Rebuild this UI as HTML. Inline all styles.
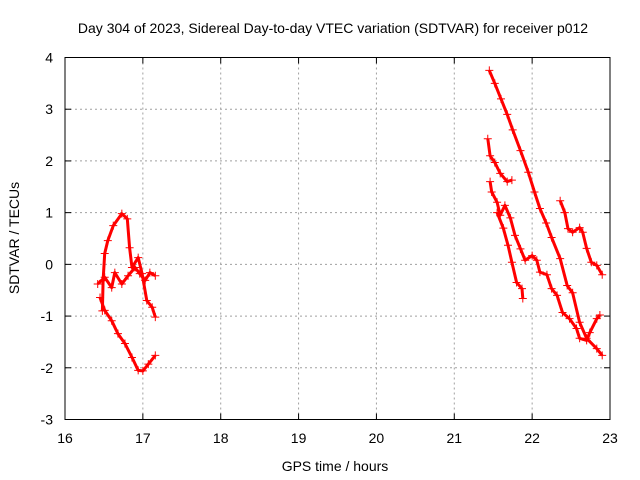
<!DOCTYPE html>
<html><head><meta charset="utf-8"><style>
body{margin:0;background:#fff}
svg{display:block;font-family:"Liberation Sans",sans-serif;font-size:14px}
</style></head><body>
<svg id="chart" width="640" height="480">
<text x="333" y="33" text-anchor="middle">Day 304 of 2023, Sidereal Day-to-day VTEC variation (SDTVAR) for receiver p012</text>
<text x="335" y="471" text-anchor="middle">GPS time / hours</text>
<text transform="translate(19,238) rotate(-90)" text-anchor="middle">SDTVAR / TECUs</text>
<g id="grid"></g><g id="ticks"></g><g id="marks"></g>
<rect x="65" y="57.5" width="545" height="362" fill="none" stroke="#000" stroke-width="1"/>
</svg>
<script>
const xTicks=[16,17,18,19,20,21,22,23];
const yTicks=[-3,-2,-1,0,1,2,3,4];
const seriesA=[[21.45,3.75],[21.52,3.5],[21.6,3.2],[21.68,2.9],[21.75,2.6],[21.85,2.2],[21.95,1.78],[22.03,1.4],[22.1,1.08],[22.18,0.8],[22.25,0.52],[22.36,0.11],[22.45,-0.41],[22.52,-0.55],[22.61,-1.12],[22.7,-1.43],[22.83,-1.63],[22.9,-1.76]];
const seriesB=[[21.43,2.43],[21.46,2.1],[21.52,1.97],[21.59,1.76],[21.68,1.6],[21.74,1.63]];
const seriesC=[[21.46,1.6],[21.48,1.4],[21.55,1.2],[21.59,0.95],[21.65,1.14],[21.72,0.9],[21.78,0.56],[21.85,0.3],[21.91,0.08],[22.0,0.17],[22.06,0.08],[22.1,-0.15],[22.19,-0.2],[22.25,-0.47],[22.32,-0.6],[22.39,-0.93],[22.48,-1.05],[22.57,-1.24],[22.61,-1.43],[22.7,-1.47],[22.74,-1.32],[22.83,-1.05],[22.87,-0.98]];
const seriesD=[[21.55,1.0],[21.63,0.7],[21.69,0.37],[21.74,0.04],[21.8,-0.35],[21.87,-0.47],[21.88,-0.66]];
const seriesE=[[22.36,1.23],[22.42,1.0],[22.46,0.69],[22.52,0.62],[22.61,0.71],[22.65,0.62],[22.7,0.31],[22.76,0.04],[22.83,-0.02],[22.9,-0.2]];
const seriesF=[[16.48,-0.9],[16.49,-0.31],[16.51,0.21],[16.55,0.46],[16.62,0.75],[16.73,0.98],[16.8,0.88],[16.83,0.32],[16.86,-0.06],[16.94,0.13],[16.99,-0.18],[17.05,-0.7],[17.12,-0.83],[17.16,-1.02]];
const seriesG=[[16.45,-0.64],[16.51,-0.89],[16.6,-1.09],[16.68,-1.34],[16.77,-1.53],[16.86,-1.8],[16.94,-2.05],[17.0,-2.06],[17.07,-1.93],[17.16,-1.76]];
const seriesH=[[16.42,-0.38],[16.51,-0.25],[16.6,-0.45],[16.64,-0.16],[16.73,-0.38],[16.81,-0.22],[16.9,-0.06],[16.96,-0.18],[17.03,-0.31],[17.09,-0.16],[17.16,-0.22]];
const allSeries=[seriesA,seriesB,seriesC,seriesD,seriesE,seriesF,seriesG,seriesH];
const NS='http://www.w3.org/2000/svg';
const X0=65,X1=610,Y0=419.5,Y1=57.5;
function sx(h){return X0+(h-16)/(23-16)*(X1-X0);}
function sy(v){return Y0-(v+3)/(4+3)*(Y0-Y1);}
function mk(t,a,p){const e=document.createElementNS(NS,t);for(const k in a)e.setAttribute(k,a[k]);p.appendChild(e);return e;}
const grid=document.getElementById('grid'),ticks=document.getElementById('ticks'),marks=document.getElementById('marks');
xTicks.forEach(t=>{const x=sx(t);
 if(t>16&&t<23){const g=mk('line',{x1:x,x2:x,y1:Y1,y2:Y0,stroke:'#a0a0a0','stroke-dasharray':'2,3'},grid);
 
 }
 mk('line',{x1:x,x2:x,y1:Y0,y2:Y0-6,stroke:'#000'},ticks);mk('line',{x1:x,x2:x,y1:Y1,y2:Y1+6,stroke:'#000'},ticks);
 const l=mk('text',{x:x,y:443,'text-anchor':'middle'},ticks);l.textContent=t;
 
 });
yTicks.forEach(t=>{const y=sy(t);
 if(t>-3&&t<4){const g=mk('line',{x1:X0,x2:X1,y1:y,y2:y,stroke:'#a0a0a0','stroke-dasharray':'2,3'},grid);
 
 }
 mk('line',{x1:X0,x2:X0+6,y1:y,y2:y,stroke:'#000'},ticks);mk('line',{x1:X1,x2:X1-6,y1:y,y2:y,stroke:'#000'},ticks);
 const l=mk('text',{x:53,y:y+5,'text-anchor':'end'},ticks);l.textContent=t;
 
 });
allSeries.forEach((s,i)=>{
 const d=s.map((p,j)=>(j?'L':'M')+sx(p[0]).toFixed(1)+','+sy(p[1]).toFixed(1)).join('');
 const ln=mk('path',{d:d,fill:'none',stroke:'#f00','stroke-width':3,'stroke-linejoin':'round'},marks);
 
 
 let pd='';s.forEach(p=>{const x=sx(p[0]),y=sy(p[1]);pd+=`M${x-4},${y}h8M${x},${y-4}v8`;});
 const pts=mk('path',{d:pd,stroke:'#f00','stroke-width':1},marks);
 
 
});
</script>
</body></html>
